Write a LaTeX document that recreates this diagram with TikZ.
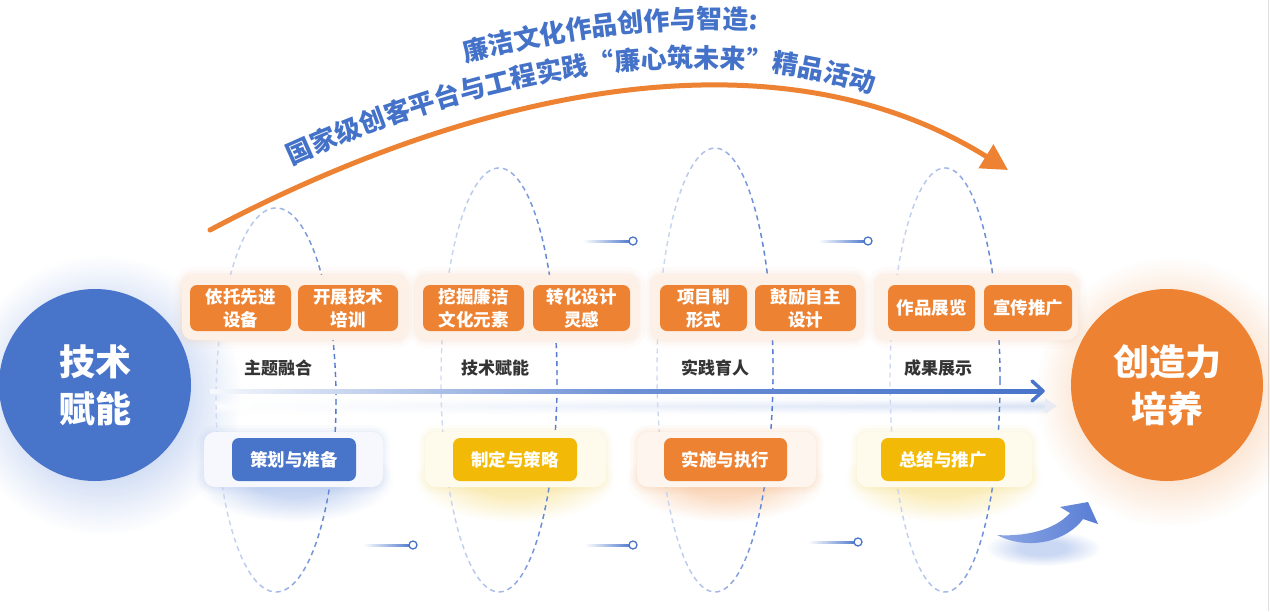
\documentclass[tikz,border=0pt]{standalone}
\usepackage{fontspec}
\setmainfont{Noto Sans CJK SC}
\usetikzlibrary{decorations.text,fadings,calc,arrows.meta}

\definecolor{tblue}{RGB}{72,116,202}
\definecolor{ttitle}{RGB}{68,114,200}
\definecolor{torange}{RGB}{237,130,50}
\definecolor{tyellow}{RGB}{242,186,6}
\definecolor{peach}{RGB}{253,240,231}
\definecolor{peachhalo}{RGB}{244,196,160}
\definecolor{ellfaint}{RGB}{208,220,243}
\definecolor{ellblue}{RGB}{84,122,208}
\definecolor{lblgray}{RGB}{52,52,52}
\definecolor{glowblue}{RGB}{150,178,232}
\definecolor{gloworange}{RGB}{246,170,110}
\definecolor{glowyellow}{RGB}{248,220,120}
\definecolor{bluewhite}{RGB}{246,248,253}
\definecolor{creamwhite}{RGB}{255,251,236}
\definecolor{peachwhite}{RGB}{254,245,238}
\definecolor{arrlight}{RGB}{140,166,228}
\definecolor{arrdark}{RGB}{88,125,212}

\pgfdeclareradialshading{softshade}{\pgfpointorigin}{color(0pt)=(white); color(10pt)=(white); color(25pt)=(black); color(50pt)=(black)}
\pgfdeclarefading{softglow}{\pgfuseshading{softshade}}
\tikzfading[name=ellfade, left color=transparent!100, right color=transparent!0, middle color=transparent!65]
\tikzfading[name=bandfade, top color=transparent!100, bottom color=transparent!100, middle color=transparent!20]

\newcommand\boxfont{\fontsize{17.5pt}{23pt}\selectfont\bfseries}
\newcommand\lblfont{\fontsize{17pt}{20pt}\selectfont\bfseries}
\newcommand\circfont{\fontsize{36pt}{47pt}\selectfont\bfseries}
\newcommand\ttlfont{\fontsize{26pt}{26pt}\selectfont\bfseries\color{ttitle}}

\begin{document}
\begin{tikzpicture}[x=1pt,y=-1pt,
  obox/.style={fill=torange, rounded corners=7pt, text=white, font=\boxfont, align=center, inner sep=0pt},
  ybox/.style={obox, fill=tyellow},
  bbox/.style={obox, fill=tblue},
  topc/.style={fill=peach, rounded corners=11pt, inner sep=0pt,
    preaction={draw=peachhalo, line width=16pt, draw opacity=0.05},
    preaction={draw=peachhalo, line width=9pt, draw opacity=0.07},
    preaction={draw=peachhalo, line width=4pt, draw opacity=0.09}},
  botc/.style 2 args={fill=#1, rounded corners=11pt, inner sep=0pt,
    preaction={draw=#2, line width=14pt, draw opacity=0.05},
    preaction={draw=#2, line width=8pt, draw opacity=0.06},
    preaction={draw=#2, line width=3pt, draw opacity=0.07}},
  lbl/.style={text=lblgray, font=\lblfont, inner sep=0pt},
  circ/.style={circle, minimum size=192pt, inner sep=0pt, text=white, font=\circfont, align=center},
  dotc/.style={circle, draw=tblue, fill=white, line width=1.3pt, minimum size=8pt, inner sep=0pt},
  ellb/.style={draw=ellfaint, line width=1.4pt, dash pattern=on 5pt off 4pt},
  ello/.style={draw=ellblue, line width=1.4pt, dash pattern=on 5pt off 4pt, path fading=ellfade}
]
\useasboundingbox (0,0) rectangle (1270,611);
\fill[white] (0,0) rectangle (1270,611);
\draw[black!12, line width=1pt] (1268.5,0) -- (1268.5,611);

% ---- glows
\fill[glowblue, fill opacity=0.6, path fading=softglow] (102,395) circle (140);
\fill[gloworange, fill opacity=0.5, path fading=softglow] (1170,392) circle (135);
\fill[glowblue, fill opacity=0.5, path fading=softglow] (294,480) ellipse (100 and 42);
\fill[glowyellow, fill opacity=0.5, path fading=softglow] (515,480) ellipse (100 and 42);
\fill[gloworange, fill opacity=0.42, path fading=softglow] (725,480) ellipse (100 and 42);
\fill[glowyellow, fill opacity=0.5, path fading=softglow] (943,480) ellipse (100 and 42);
\fill[glowblue, fill opacity=0.5, path fading=softglow] (1043,548) ellipse (58 and 18);
\shade[left color=white, right color=ellfaint, path fading=bandfade] (215,398) rectangle (1045,414);
\fill[ellfaint, opacity=0.45] (1045,398) -- (1057,406) -- (1045,414) -- cycle;

% ---- dashed ellipses
\draw[ellb] (276,400) ellipse (60 and 192);
\draw[ello] (276,400) ellipse (60 and 192);
\draw[ellb] (499,380) ellipse (58 and 212);
\draw[ello] (499,380) ellipse (58 and 212);
\draw[ellb] (715,370) ellipse (58 and 222);
\draw[ello] (715,370) ellipse (58 and 222);
\draw[ellb] (945,380) ellipse (55 and 212);
\draw[ello] (945,380) ellipse (55 and 212);

% ---- orange arc with title
\coordinate (arcS) at (210,230);
\coordinate (arcT) at (1008,170);
\draw[torange, line width=5pt, line cap=round, -{Triangle[length=26pt,width=27pt]}]
  (arcS) .. controls (457,99) and (766,19) .. (arcT);
\path[decorate, decoration={text along path,
  text={|\ttlfont|廉洁文化作品创作与智造:}, text align={left indent=304pt}}]
  (183,173) .. controls (430,42) and (773,-39) .. (1011,105);
\path[decorate, decoration={text along path,
  text={|\ttlfont|国家级创客平台与工程实践“廉心筑未来”精品活动}, text align={left indent=104pt}}]
  (199,212) .. controls (447,76) and (754,0) .. (989,148);

% ---- top containers and boxes
\node[topc, minimum width=225pt, minimum height=65pt] (c1) at (294.5,307.5) {};
\node[topc, minimum width=222pt, minimum height=65pt] (c2) at (527,307.5) {};
\node[topc, minimum width=212pt, minimum height=65pt] (c3) at (757,307.5) {};
\node[topc, minimum width=203pt, minimum height=65pt] (c4) at (976.5,307.5) {};

\node[obox, minimum width=101pt, minimum height=46pt] (b1) at (240.5,308) {依托先进\\设备};
\node[obox, minimum width=100pt, minimum height=46pt] (b2) at (348,308) {开展技术\\培训};
\node[obox, minimum width=101pt, minimum height=46pt] (b3) at (473.5,308) {挖掘廉洁\\文化元素};
\node[obox, minimum width=97pt, minimum height=46pt] (b4) at (581.5,308) {转化设计\\灵感};
\node[obox, minimum width=87pt, minimum height=46pt] (b5) at (703.5,308) {项目制\\形式};
\node[obox, minimum width=101pt, minimum height=46pt] (b6) at (805.5,308) {鼓励自主\\设计};
\node[obox, minimum width=87pt, minimum height=46pt] (b7) at (931.5,308) {作品展览};
\node[obox, minimum width=88pt, minimum height=46pt] (b8) at (1028,308) {宣传推广};

% ---- phase labels
\node[lbl] (p1) at (278,368) {主题融合};
\node[lbl] (p2) at (495,368) {技术赋能};
\node[lbl] (p3) at (715,368) {实践育人};
\node[lbl] (p4) at (938,368) {成果展示};

% ---- bottom containers and boxes
\node[botc={bluewhite}{glowblue}, minimum width=179pt, minimum height=55pt] (d1) at (293.5,459.5) {};
\node[botc={creamwhite}{glowyellow}, minimum width=181pt, minimum height=55pt] (d2) at (515.5,459.5) {};
\node[botc={peachwhite}{gloworange}, minimum width=179pt, minimum height=55pt] (d3) at (726.5,459.5) {};
\node[botc={creamwhite}{glowyellow}, minimum width=175pt, minimum height=55pt] (d4) at (944.5,459.5) {};

\node[bbox, minimum width=124pt, minimum height=43pt] (e1) at (294,459.5) {策划与准备};
\node[ybox, minimum width=124pt, minimum height=43pt] (e2) at (515,459.5) {制定与策略};
\node[obox, minimum width=123pt, minimum height=43pt] (e3) at (725.5,459.5) {实施与执行};
\node[ybox, minimum width=124pt, minimum height=43pt] (e4) at (943,459.5) {总结与推广};

% ---- main arrow
\coordinate (mS) at (210,391);
\coordinate (mE) at (1043,391);
\shade[left color=tblue!5, right color=tblue, middle color=tblue!80] ($(mS)+(0,-2)$) rectangle ($(mE)+(-3,2)$);
\draw[tblue, line width=3.5pt, line cap=round, line join=round] ($(mE)+(-11,-10)$) -- (mE) -- ($(mE)+(-11,10)$);

% ---- small connectors
\newcommand\conn[3]{%
  \coordinate (#1a) at (#2); \coordinate (#1b) at (#3);
  \shade[left color=white, right color=tblue] ($(#1a)+(0,-1)$) rectangle ($(#1b)+(0,1)$);
  \node[dotc] (#1) at (#1b) {};}
\conn{ka}{583,241}{633,241}
\conn{kb}{818,241}{868,241}
\conn{kc}{363,545}{413,545}
\conn{kd}{585,545}{633,545}
\conn{ke}{808,542}{858,542}

% ---- circles
\node[circ, fill=tblue] (left) at (95,385) {技术\\赋能};
\node[circ, fill=torange] (right) at (1167,385) {创造力\\培养};

% ---- curved blue arrow
\shade[left color=arrlight, right color=arrdark]
  (997,535) .. controls (1025,537) and (1055,530) .. (1070,513)
  -- (1060,507) -- (1088,502) -- (1098,524) -- (1083,519)
  .. controls (1068,540) and (1030,552) .. (997,535) -- cycle;
\end{tikzpicture}
\end{document}
